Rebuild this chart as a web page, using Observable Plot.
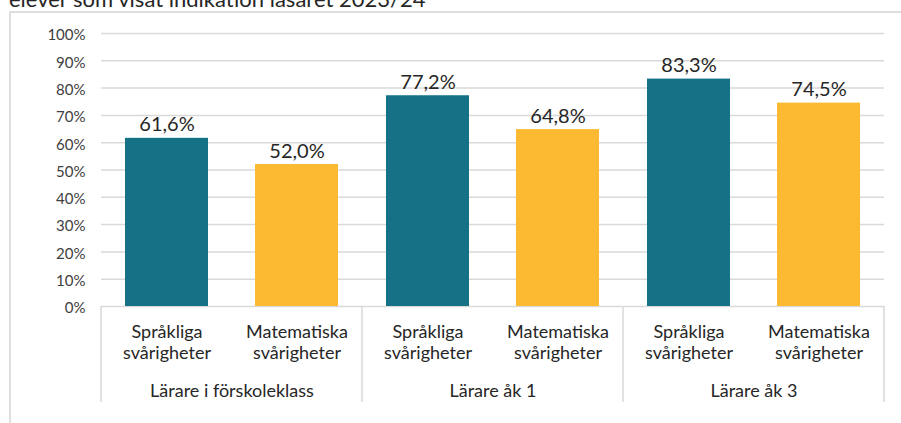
<!DOCTYPE html>
<html><head><meta charset="utf-8">
<script src="https://cdn.jsdelivr.net/npm/d3@7"></script>
<script src="https://cdn.jsdelivr.net/npm/@observablehq/plot@0.6"></script>
<style>
html,body{margin:0;padding:0;background:#fff;}
#wrap{position:relative;width:901px;height:423px;overflow:hidden;font-family:Lato,sans-serif;}
#title{position:absolute;left:9px;top:-12.5px;font-size:22px;line-height:22px;color:#262626;white-space:nowrap;}
#box{position:absolute;left:9px;top:11px;width:900px;height:420px;border-left:2px solid #dedede;border-top:2px solid #dedede;}
#chart{position:absolute;left:0;top:0;}
</style></head><body>
<div id="wrap">
<div id="title">elever som visat indikation läsåret 2023/24</div>
<div id="box"></div>
<div id="chart"></div>
</div>
<script>
const groups = ["Lärare i förskoleklass", "Lärare åk 1", "Lärare åk 3"];
const types = ["Språkliga svårigheter", "Matematiska svårigheter"];
const typeLabels = ["Språkliga\nsvårigheter", "Matematiska\nsvårigheter"];
const sprakliga = [61.6, 77.2, 83.3];
const matematiska = [52.0, 64.8, 74.5];
const yTicks = [0, 10, 20, 30, 40, 50, 60, 70, 80, 90, 100];
const colors = ["#157286", "#FBBA31"];

const data = [];
groups.forEach((g, i) => {
  data.push({group: g, type: types[0], value: sprakliga[i]});
  data.push({group: g, type: types[1], value: matematiska[i]});
});
const fmt = v => v.toFixed(1).replace(".", ",") + "%";

const chart = Plot.plot({
  width: 901,
  height: 423,
  marginLeft: 100,
  marginRight: 17,
  marginTop: 33,
  marginBottom: 117,
  style: {fontFamily: "Lato, sans-serif", fontSize: "15px", color: "#404040", background: "transparent", overflow: "visible"},
  fx: {domain: groups, padding: 0, label: null},
  x: {domain: types, paddingInner: 0.365, paddingOuter: 0.1825, label: null},
  y: {domain: [0, 100], label: null},
  color: {domain: types, range: colors},
  marks: [
    Plot.gridY(yTicks, {stroke: "#d9d9d9", strokeOpacity: 1, strokeWidth: 1.5}),
    Plot.axisY(yTicks, {tickSize: 0, tickPadding: 16, tickFormat: d => d + "%", fontSize: 15, fill: "#404040", dy: 2, label: null}),
    Plot.barY(data, {fx: "group", x: "type", y: "value", fill: "type"}),
    Plot.text(data, {fx: "group", x: "type", y: "value", text: d => fmt(d.value), lineAnchor: "bottom", dy: -7, fontSize: 20, fill: "#262626"}),
    Plot.axisX({anchor: "bottom", tickSize: 0, tickPadding: 16, fontSize: 18, lineHeight: 1.2, fill: "#262626",
      tickFormat: t => typeLabels[types.indexOf(t)], label: null}),
    Plot.axisFx({anchor: "bottom", tickSize: 0, tickPadding: 78, fontSize: 18, fill: "#262626", label: null})
  ]
});

// group separators below the category axis, positioned from the fx scale
const fxs = chart.scale("fx");
const ys = chart.scale("y");
const y0 = ys.apply(0);
const edges = groups.map(g => fxs.apply(g));
edges.push(fxs.apply(groups[groups.length - 1]) + fxs.bandwidth);
const sel = d3.select(chart);
sel.selectAll("line.sep").data(edges).join("line")
  .attr("class", "sep")
  .attr("x1", d => d).attr("x2", d => d)
  .attr("y1", y0).attr("y2", y0 + 96)
  .attr("stroke", "#d9d9d9").attr("stroke-width", 1.5);

document.getElementById("chart").appendChild(chart);
</script>
</body></html>
